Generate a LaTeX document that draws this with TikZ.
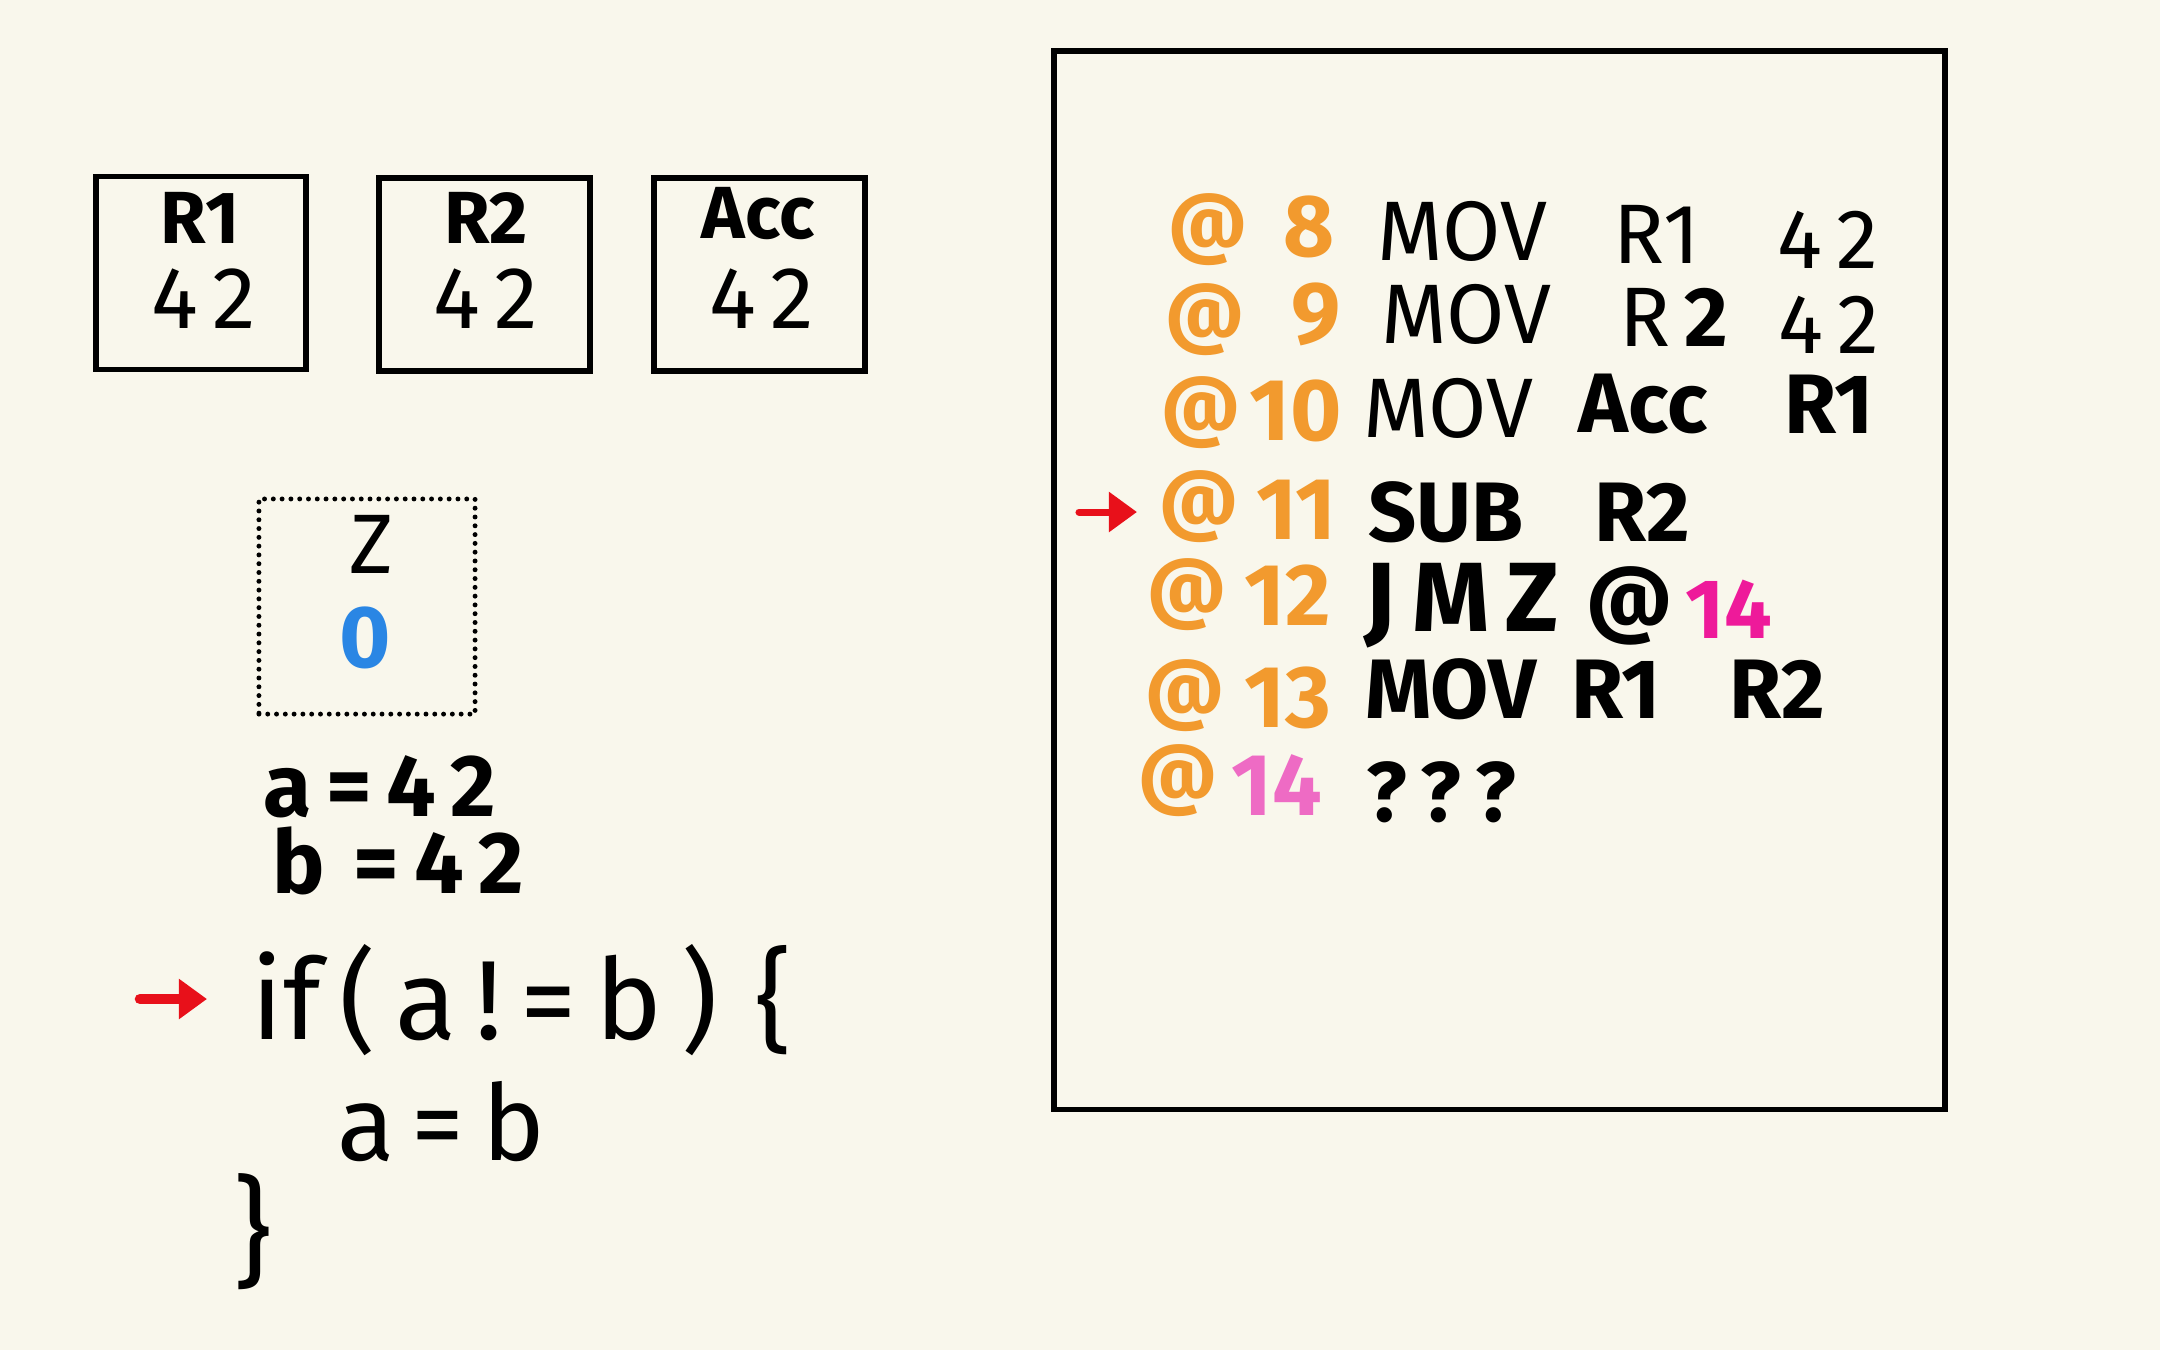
\documentclass[tikz,border=0pt]{standalone}
\usepackage{fontspec}
\setmainfont{Fira Sans}
\usetikzlibrary{arrows.meta}
\definecolor{bg}{HTML}{F9F7EC}
\definecolor{orng}{HTML}{F29A2E}
\definecolor{zblue}{HTML}{2A86E4}
\definecolor{mag}{HTML}{EE1A9A}
\definecolor{lpink}{HTML}{EE6BC4}
\definecolor{redar}{HTML}{E8101A}
\begin{document}
\begin{tikzpicture}[x=0.01cm,y=-0.01cm,
  box/.style={draw=black,line width=1.6pt,inner sep=0pt},
  txt/.style={inner sep=0pt,anchor=center},
  lbl/.style={txt,font=\fontsize{21}{24}\selectfont\bfseries},
  val/.style={txt,font=\fontsize{25}{28}\selectfont},
  code/.style={txt,font=\fontsize{24}{28}\selectfont},
  codeb/.style={txt,font=\fontsize{24}{28}\selectfont\bfseries},
  atsign/.style={txt,text=orng,font=\fontsize{22}{26}\selectfont\bfseries},
  addr/.style={txt,text=orng,font=\fontsize{25}{28}\selectfont\bfseries},
  pc/.style={draw=redar,line cap=round,-{Triangle[length=8pt,width=11pt]}}
]
\fill[bg] (0,0) rectangle (2160,1350);
\useasboundingbox (0,0) rectangle (2160,1350);

% register boxes
\node[box,minimum width=2.10cm,minimum height=1.93cm] (r1box) at (201,273) {};
\node[box,minimum width=2.11cm,minimum height=1.93cm] (r2box) at (484.5,274.5) {};
\node[box,minimum width=2.11cm,minimum height=1.93cm] (accbox) at (759.5,274.5) {};
\node[lbl] (r1lbl) at (200,218) {R1};
\node[val] (r1val) at (204,299) {4\,2};
\node[lbl] (r2lbl) at (486,218) {R2};
\node[val] (r2val) at (486,299) {4\,2};
\node[lbl] (acclbl) at (758,214) {Acc};
\node[val] (accval) at (762,299) {4\,2};

% Z flag
\node[draw=black,line width=1.4pt,line cap=round,dash pattern=on 0pt off 2.5pt,
      minimum width=2.16cm,minimum height=2.15cm,inner sep=0pt] (zbox) at (367,606.5) {};
\node[txt,font=\fontsize{24}{28}\selectfont] (zlbl) at (372,544) {Z};
\node[txt,text=zblue,font=\fontsize{25}{28}\selectfont\bfseries] (zval) at (365,638) {0};

% variables
\node[txt,font=\fontsize{25}{28}\selectfont\bfseries] (avar) at (380,787) {a\,=\,4\,2};
\node[txt,font=\fontsize{25}{28}\selectfont\bfseries] (bvar) at (398,861) {b\,\,=\,4\,2};

% C code
\coordinate (arL0) at (140,999);
\coordinate (arL1) at (207,999);
\draw[pc,line width=3pt] (arL0) -- (arL1);
\node[txt,anchor=west,font=\fontsize{32}{36}\selectfont] (ifline) at (251,1000) {if\,(\,a\,!\,=\,b\,)\,\,\{};
\node[txt,font=\fontsize{30}{34}\selectfont] (assign) at (441,1122) {a\,=\,b};
\node[txt,font=\fontsize{34}{38}\selectfont] (close) at (253,1232) {\}};

% program memory
\node[box,minimum width=8.91cm,minimum height=10.58cm] (mem) at (1499.5,580) {};

% line @8
\node[atsign] (at8) at (1208,230) {@};
\node[addr] (n8) at (1309,227) {8};
\node[code] (mov8) at (1462,231) {MOV};
\node[code] (r1a) at (1657,234) {R1};
\node[code] (c42a) at (1828,240) {4\,2};
% line @9
\node[atsign] (at9) at (1205,320) {@};
\node[addr] (n9) at (1316,314) {9};
\node[code] (mov9) at (1466,314) {MOV};
\node[code] (r2a) at (1674,317) {R\,\textbf{2}};
\node[code] (c42b) at (1829,325) {4\,2};
% line @10
\node[atsign] (at10) at (1201,413) {@};
\node[addr] (n10) at (1296,411) {10};
\node[code] (mov10) at (1448,408) {MOV};
\node[codeb] (acc10) at (1643,404) {Acc};
\node[codeb] (r110) at (1829,404) {R1};
% line @11
\coordinate (arR0) at (1079,512);
\coordinate (arR1) at (1137,512);
\draw[pc,line width=2pt] (arR0) -- (arR1);
\node[atsign] (at11) at (1199,507) {@};
\node[addr] (n11) at (1296,510) {11};
\node[codeb] (sub11) at (1446,512) {SUB};
\node[codeb] (r211) at (1642,512) {R2};
% line @12
\node[atsign] (at12) at (1187,595) {@};
\node[addr] (n12) at (1288,595) {12};
\node[txt,font=\fontsize{28}{32}\selectfont\bfseries] (jmz12) at (1462,606) {J\,M\,Z};
\node[txt,font=\fontsize{24}{28}\selectfont\bfseries] (at12b) at (1630,606) {@};
\node[txt,text=mag,font=\fontsize{24}{28}\selectfont\bfseries] (t14a) at (1729,609) {14};
% line @13
\node[atsign] (at13) at (1185,696) {@};
\node[addr] (n13) at (1288,698) {13};
\node[codeb] (mov13) at (1451,689) {MOV};
\node[codeb] (r113) at (1616,689) {R1};
\node[codeb] (r213) at (1777,689) {R2};
% line @14
\node[atsign] (at14) at (1178,781) {@};
\node[txt,text=lpink,font=\fontsize{25}{28}\selectfont\bfseries] (n14) at (1277,785) {14};
\node[codeb] (q14) at (1441,792) {?\,?\,?};
\end{tikzpicture}
\end{document}
